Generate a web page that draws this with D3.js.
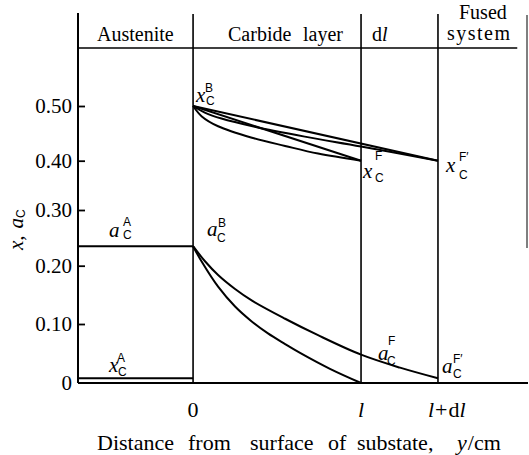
<!DOCTYPE html>
<html><head><meta charset="utf-8">
<script src="https://cdn.jsdelivr.net/npm/d3@7"></script>
<style>
html,body{margin:0;padding:0;background:#fff;}
svg{display:block;}
text{font-family:"Liberation Serif","Times New Roman",serif;fill:#000;}
.it{font-style:italic;}
.ss{font-family:"Liberation Sans",Arial,sans-serif;font-size:12px;}
</style></head><body>
<svg id="chart" width="529" height="455"></svg>
<script>
// ---------------- data ----------------
const regionNames = ["Austenite", "Carbide layer", "dl", "Fused system"];
const boundaries = [0, 1, 1.458];            // y = 0, l, l+dl  (in units of l)
const xTickLabels = ["0", "l", "l+dl"];
const yTicks = [0, 0.1, 0.2, 0.3, 0.4, 0.5];
const yTickLabels = ["0", "0.10", "0.20", "0.30", "0.40", "0.50"];

// austenite (constant) levels
const austeniteX = [-0.685, 0];
const aCA = 0.235;    // a_C^A
const xCA = 0.008;    // x_C^A

// carbon content x_C in carbide layer
const xC1_x = [0, 1.458];
const xC1_y = [0.50, 0.40];
const xC2_x = [0, 0.07, 0.169, 0.367, 0.665, 1.0, 1.458];
const xC2_y = [0.50, 0.488, 0.477, 0.462, 0.444, 0.426, 0.40];
const xC3_x = [0, 1];
const xC3_y = [0.50, 0.40];
const xC4_x = [0, 0.052, 0.149, 0.351, 0.548, 0.744, 1];
const xC4_y = [0.50, 0.481, 0.463, 0.442, 0.427, 0.413, 0.40];

// carbon activity a_C in carbide layer
const aC1_x = [0, 0.052, 0.149, 0.25, 0.351, 0.446, 0.548, 0.637, 0.815, 1];
const aC1_y = [0.235, 0.207, 0.164, 0.130, 0.104, 0.084, 0.066, 0.051, 0.024, 0];
const aC2_x = [0, 0.071, 0.149, 0.25, 0.351, 0.548, 0.744, 1, 1.232, 1.458];
const aC2_y = [0.235, 0.208, 0.184, 0.160, 0.140, 0.109, 0.081, 0.048, 0.026, 0.008];

// ---------------- drawing ----------------
const svg = d3.select("#chart");
const x = d3.scaleLinear().domain([-0.685, 1.988]).range([78, 527]);
const y = d3.scaleLinear().domain(yTicks).range([383, 324, 265.7, 210, 160.7, 106]);
const topY = 14, headY = 48;

const ln = (x1, y1, x2, y2, w, c) => svg.append("line")
  .attr("x1", x1).attr("y1", y1).attr("x2", x2).attr("y2", y2)
  .attr("stroke", c || "#000").attr("stroke-width", w);

// axes / frame
ln(x.range()[0], topY - 1, x.range()[0], y(0), 2);
ln(x.range()[0], y(0), x.range()[1] + 1, y(0), 2);
ln(x.range()[0], headY, x(1.93), headY, 1.5);
boundaries.forEach(b => ln(x(b), topY, x(b), y(0), 1.6));
ln(x.range()[1], 15, x.range()[1], 248, 1.5, "#555");

// y axis ticks
const yAxis = d3.axisLeft(y).tickValues(yTicks)
  .tickFormat((d, i) => yTickLabels[i]).tickSize(-7).tickPadding(6);
const ga = svg.append("g").attr("transform", `translate(${x.range()[0]},0)`).call(yAxis);
ga.select(".domain").remove();
ga.selectAll(".tick line").attr("stroke-width", 1.8);
ga.selectAll(".tick text").attr("font-size", 21)
  .attr("font-family", '"Liberation Serif","Times New Roman",serif').attr("fill", "#000");
ga.selectAll(".tick").filter(d => d === 0).select("line").remove();

// region headers
const hdr = svg.append("g").attr("font-size", 20);
hdr.append("text").attr("x", 97).attr("y", 41).text(regionNames[0]);
const cl = hdr.append("text").attr("y", 41);
cl.append("tspan").attr("x", 228).text(regionNames[1].split(" ")[0]);
cl.append("tspan").attr("x", 303).text(regionNames[1].split(" ")[1]);
const dlT = hdr.append("text").attr("x", 372).attr("y", 41);
dlT.append("tspan").text(regionNames[2][0]);
dlT.append("tspan").attr("class", "it").text(regionNames[2][1]);
hdr.append("text").attr("x", 459).attr("y", 19).text(regionNames[3].split(" ")[0]);
hdr.append("text").attr("x", 447).attr("y", 40).attr("textLength", 63).text(regionNames[3].split(" ")[1]);

// x tick labels
const xt = svg.append("g").attr("font-size", 22);
xt.append("text").attr("x", x(boundaries[0])).attr("y", 417).attr("text-anchor", "middle").text(xTickLabels[0]);
xt.append("text").attr("x", x(boundaries[1])).attr("y", 417).attr("text-anchor", "middle")
  .attr("class", "it").text(xTickLabels[1]);
const t3 = xt.append("text").attr("x", x(boundaries[2]) - 10).attr("y", 417);
t3.append("tspan").attr("class", "it").text("l");
t3.append("tspan").attr("dx", 1).text("+");
t3.append("tspan").attr("dx", 1).text("d");
t3.append("tspan").attr("class", "it").text("l");

// x axis title
const xtitle = svg.append("text").attr("y", 450).attr("font-size", 22);
[["Distance", 97], ["from", 188], ["surface", 250], ["of", 328], ["substate,", 357]].forEach(([w, px]) =>
  xtitle.append("tspan").attr("x", px).text(w));
xtitle.append("tspan").attr("x", 457).attr("class", "it").text("y");
xtitle.append("tspan").attr("dx", 1).text("/cm");

// y axis title
const yt = svg.append("text").attr("transform", "translate(23,250) rotate(-90)").attr("font-size", 21);
yt.append("tspan").attr("class", "it").text("x,");
yt.append("tspan").attr("class", "it").attr("dx", 7).text("a");
yt.append("tspan").attr("class", "ss").attr("font-size", 13).attr("dy", 2).text("C");

// curves
const line = d3.line().x(d => x(d[0])).y(d => y(d[1])).curve(d3.curveCatmullRom.alpha(0.5));
const series = [
  [austeniteX, [aCA, aCA]],
  [austeniteX, [xCA, xCA]],
  [xC1_x, xC1_y], [xC2_x, xC2_y], [xC3_x, xC3_y], [xC4_x, xC4_y],
  [aC1_x, aC1_y], [aC2_x, aC2_y]
];
svg.append("g").selectAll("path").data(series).join("path")
  .attr("d", s => line(s[0].map((v, i) => [v, s[1][i]])))
  .attr("fill", "none").attr("stroke", "#000").attr("stroke-width", 2)
  .attr("stroke-linejoin", "round");

// curve annotations: [main, sup, sub, anchorX, anchorY, mainDx, mainDy, supDx, supDy, subDx, subDy]
const annots = [
  ["x", "B", "C", 0, 0.5, 3, -4, 12, -14, 13, -1],
  ["a", "A", "C", -0.5, aCA, 0, -9, 14, -20, 14, -7],
  ["a", "B", "C", 0, aCA, 14, -10, 25, -19, 24, -4],
  ["x", "A", "C", -0.5, xCA, 0, -6, 8, -16, 9, -2],
  ["x", "F", "C", 1, 0.40, 2, 17, 14, -1, 14, 21],
  ["x", "F\u2032", "C", 1.458, 0.40, 8, 11, 21, 0, 21, 18],
  ["a", "F", "C", 1, aC2_y[7], 17, 5, 27, -10, 26, 10],
  ["a", "F\u2032", "C", 1.458, aC2_y[9], 4, -5, 15, -15, 15, 0]
];
const ag = svg.append("g");
annots.forEach(a => {
  const ax = x(a[3]), ay = y(a[4]);
  ag.append("text").attr("class", "it").attr("font-size", 21).attr("x", ax + a[5]).attr("y", ay + a[6]).text(a[0]);
  ag.append("text").attr("class", "ss").attr("x", ax + a[7]).attr("y", ay + a[8]).text(a[1]);
  ag.append("text").attr("class", "ss").attr("font-size", 13).attr("x", ax + a[9]).attr("y", ay + a[10]).text(a[2]);
});
</script>
</body></html>
